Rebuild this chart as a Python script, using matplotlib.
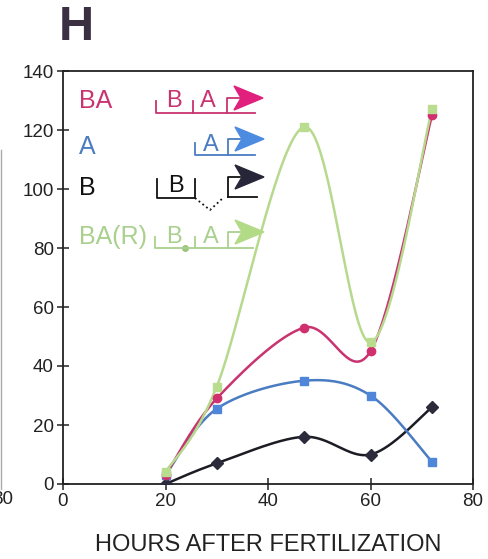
import numpy as np
import matplotlib
matplotlib.use("Agg")
import matplotlib.pyplot as plt
from matplotlib.lines import Line2D
from matplotlib.patches import Polygon

plt.rcParams['font.family'] = ['Liberation Sans', 'DejaVu Sans']

# hours after fertilization
hours = [20, 30, 47, 60, 72]
# expression values
ba_vals = [3, 29, 53, 45, 125]
a_vals = [3, 25.5, 35, 30, 7.5]
b_vals = [0, 7, 16, 10, 26]
bar_vals = [4, 33, 121, 48, 127]

x_ticks = [0, 20, 40, 60, 80]
y_ticks = [0, 20, 40, 60, 80, 100, 120, 140]

col_ba = '#c83370'
col_a = '#4a7cc2'
col_b = '#1c1c24'
col_bar = '#b7d98e'


def smooth(xs, ys, n=40):
    # excel-style smoothed line: cubic bezier segments with catmull-rom control points
    p = np.column_stack([xs, ys]).astype(float)
    p_ext = np.vstack([p[0], p, p[-1]])
    out = []
    t = np.linspace(0, 1, n)[:, None]
    for i in range(len(p) - 1):
        p0, p1, p2, p3 = p_ext[i], p_ext[i + 1], p_ext[i + 2], p_ext[i + 3]
        c1 = p1 + (p2 - p0) / 6
        c2 = p2 - (p3 - p1) / 6
        seg = ((1 - t) ** 3) * p1 + 3 * ((1 - t) ** 2) * t * c1 + 3 * (1 - t) * t ** 2 * c2 + t ** 3 * p2
        out.append(seg)
    c = np.vstack(out)
    return c[:, 0], c[:, 1]


fig = plt.figure(figsize=(4.89, 5.59), dpi=100)
W, H = 489, 559
ax = fig.add_axes([63 / W, 1 - 484 / H, 410 / W, 413 / H])

series = [
    (b_vals, col_b, 'D', '#2b2b3c', 6),
    (a_vals, col_a, 's', '#4f86d8', 6),
    (ba_vals, col_ba, 'o', '#d0306e', 6),
    (bar_vals, col_bar, 's', '#b9dc8e', 6),
]
for vals, col, mk, mcol, ms in series:
    sx, sy = smooth(hours, vals)
    ax.plot(sx, sy, color=col, lw=1.8, zorder=2)
    ax.plot(hours, vals, ls='none', marker=mk, ms=ms, color=mcol, mec=mcol, zorder=3)

ax.set_xlim(0, 80)
ax.set_ylim(0, 140)
ax.set_xticks(x_ticks)
ax.set_yticks(y_ticks)
ax.tick_params(direction='inout', length=9, width=1.1, labelsize=13.5,
               colors='#222222', pad=2)
for s in ax.spines.values():
    s.set_linewidth(1.3)
    s.set_color('#222222')
ax.set_xlabel('HOURS AFTER FERTILIZATION', fontsize=17, color='#222222', labelpad=17)

# panel letter
fig.text(59 / W, 1 - 27 / H, 'H', fontsize=35, fontweight='bold', color='#3a3042',
         va='center', ha='left')

# leftover of the neighbouring panel
fig.add_artist(Line2D([1.5 / W, 1.5 / W], [1 - 150 / H, 1 - 489 / H], color='#aaaaaa', lw=1))
fig.text(13 / W, 1 - 500 / H, '80', fontsize=13.5, color='#222222', ha='right', va='center')


# gene schematics, in pixel positions of the panel
def px(x, y):
    return ((x - 63) / 410, (484 - y) / 413)


def seg(pts, col, lw=1.3, ls='-'):
    xy = [px(*p) for p in pts]
    ax.add_line(Line2D([q[0] for q in xy], [q[1] for q in xy], color=col, lw=lw, ls=ls,
                       transform=ax.transAxes, clip_on=False, zorder=4))


def promoter(x, ybase, ytop, col, tipcol):
    seg([(x, ybase), (x, ytop), (x + 12, ytop)], col)
    dart = [px(x + 36, ytop), px(x + 7, ytop - 12), px(x + 14, ytop), px(x + 7, ytop + 12)]
    ax.add_patch(Polygon(dart, closed=True, color=tipcol, transform=ax.transAxes,
                         clip_on=False, zorder=4))


def label(x, y, s, col, size=17):
    xa, ya = px(x, y)
    ax.text(xa, ya, s, color=col, fontsize=size, ha='center', va='center',
            transform=ax.transAxes, zorder=4)


rows = [
    ('BA', 101, col_ba),
    ('A', 147, col_a),
    ('B', 188, '#111111'),
    ('BA(R)', 237, '#a9d08e'),
]
for name, y, col in rows:
    xa, ya = px(79, y)
    ax.text(xa, ya, name, color=col, fontsize=18, ha='left', va='center',
            transform=ax.transAxes)

# BA construct
seg([(156, 101), (156, 113), (255, 113)], col_ba)
seg([(193, 101), (193, 113)], col_ba)
label(174, 101, 'B', col_ba)
label(208, 101, 'A', col_ba)
promoter(227, 113, 98, col_ba, '#e0207c')

# A construct
seg([(195, 143), (195, 155), (255, 155)], col_a)
label(211, 145, 'A', col_a)
promoter(228, 155, 139, col_a, '#4d8be0')

# B construct
seg([(157, 179), (157, 198), (195, 198), (195, 179)], '#111111')
label(176, 186, 'B', '#111111')
seg([(195, 198), (210, 210), (224, 197)], '#111111', lw=1.3, ls=':')
seg([(228, 197), (257, 197)], '#111111')
promoter(228, 197, 177, '#111111', '#262638')

# BA(R) construct
seg([(155, 237), (155, 248), (253, 248)], '#a9d08e')
seg([(195, 237), (195, 248)], '#a9d08e')
label(174, 237, 'B', '#a9d08e')
label(211, 237, 'A', '#a9d08e')
xa, ya = px(185, 248)
ax.plot([xa], [ya], 'o', ms=4, color='#9cc47c', transform=ax.transAxes, clip_on=False)
promoter(228, 248, 232, '#a9d08e', '#b3da86')

fig.savefig('out.png', dpi=100)
